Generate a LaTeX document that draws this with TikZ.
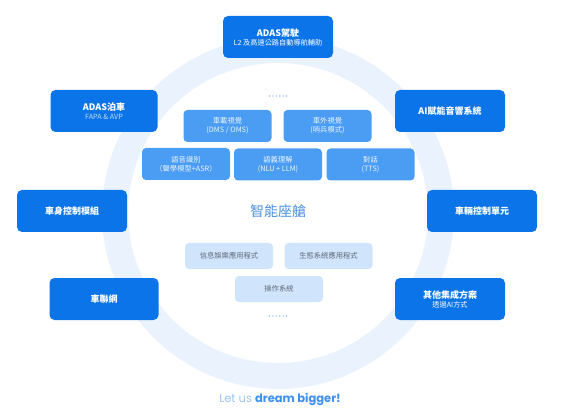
\documentclass[tikz,border=0pt]{standalone}
\usepackage{fontspec}
\setmainfont{Noto Sans CJK TC}
\newfontfamily\sloganfont{Poppins}
\usetikzlibrary{positioning}
\definecolor{deepblue}{HTML}{0B74E9}
\definecolor{midblue}{HTML}{4B9CF3}
\definecolor{paleblue}{HTML}{D0E4FC}
\definecolor{ringblue}{HTML}{EAF2FD}
\definecolor{titleblue}{HTML}{4A8FE0}
\definecolor{paletext}{HTML}{5F6B7A}
\definecolor{lightslogan}{HTML}{9CC4F5}
\definecolor{sloganblue}{HTML}{3D8FF0}

\begin{document}
\begin{tikzpicture}[x=1pt,y=-1pt,
  outerbox/.style={fill=deepblue,rounded corners=5pt,minimum width=110pt,minimum height=42pt,
    text=white,align=center,font=\bfseries\fontsize{9}{11}\selectfont},
  midbox/.style={fill=midblue,rounded corners=4pt,minimum width=88pt,minimum height=32pt,
    text=white!90!midblue,align=center,font=\fontsize{7.3}{9}\selectfont},
  palebox/.style={fill=paleblue,rounded corners=4pt,minimum width=88pt,minimum height=26pt,
    text=paletext,align=center,font=\fontsize{7.3}{8}\selectfont}]
  \useasboundingbox (0,0) rectangle (580,411);
  % ring behind everything
  \fill[ringblue,even odd rule] (278,213) circle[radius=176pt] (278,213) circle[radius=150pt];

  % outer modules
  \node[outerbox] (adasdrive) at (278,37) {ADAS駕駛\\[-2pt]{\mdseries\fontsize{7.2}{8}\selectfont L2 及高速公路自動導航輔助}};
  \node[outerbox,minimum width=107pt] (adaspark) at (104,111) {ADAS泊車\\[-2pt]{\mdseries\fontsize{7.2}{8}\selectfont\color{white!75!deepblue} FAPA \& AVP}};
  \node[outerbox] (aiaudio) at (450,111) {AI賦能音響系統};
  \node[outerbox] (bodyctrl) at (72,211) {車身控制模組};
  \node[outerbox] (vehctrl) at (482,211) {車輛控制單元};
  \node[outerbox,minimum width=109pt] (iov) at (104,299) {車聯網};
  \node[outerbox] (others) at (450,299) {其他集成方案\\[-2pt]{\mdseries\fontsize{7.2}{8}\selectfont 透過AI方式}};

  % cockpit core
  \node[midbox] (incabin) at (227.5,126) {車載視覺\\(DMS / OMS)};
  \node[midbox] (outcabin) at (327.5,126) {車外視覺\\(哨兵模式)};
  \node[midbox] (speech) at (186,164) {語音識別\\（聲學模型+ASR）};
  \node[midbox] (semantic) at (278,164.5) {語義理解\\(NLU + LLM)};
  \node[midbox] (dialog) at (370.5,164.5) {對話\\(TTS)};

  \node[text=titleblue,font=\fontsize{14}{16}\selectfont] (cockpit) at (278,211) {智能座艙};

  \node[palebox] (infotain) at (229,256) {信息娛樂應用程式};
  \node[palebox] (ecosys) at (328.5,256) {生態系統應用程式};
  \node[palebox] (opsys) at (279,289) {操作系統};

  % dots above and below
  \foreach \i in {0,...,5}{
    \fill[midblue!60] (269.5+3.4*\i,96) circle[radius=0.8pt];
    \fill[midblue!60] (269.5+3.4*\i,316) circle[radius=0.8pt];
  }

  \node[font=\sloganfont\fontsize{11.5}{13}\selectfont] (slogan) at (280,399)
    {\color{lightslogan}Let us \textbf{\color{sloganblue}dream bigger!}};
\end{tikzpicture}
\end{document}
